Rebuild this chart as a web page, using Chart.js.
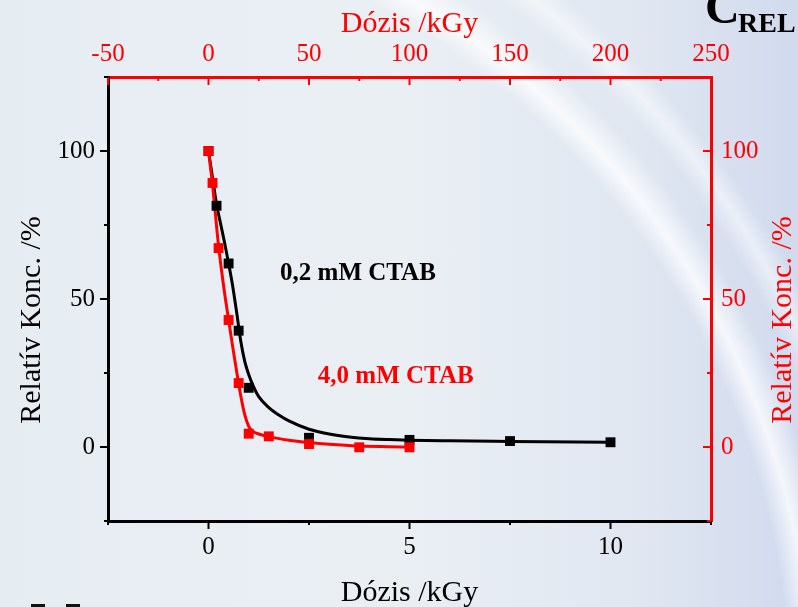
<!DOCTYPE html>
<html>
<head>
<meta charset="utf-8">
<script src="https://cdn.jsdelivr.net/npm/chart.js@4.4.1/dist/chart.umd.min.js"></script>
<style>
  html, body { margin: 0; padding: 0; }
  body {
    width: 798px; height: 607px; overflow: hidden;
    background:
      radial-gradient(circle at 0px 700px, rgba(255,255,255,0) 790px, rgba(255,255,255,0.75) 812px, rgba(255,255,255,0) 840px),
      radial-gradient(circle at 0px 700px, rgba(255,255,255,0) 860px, rgba(255,255,255,0.5) 880px, rgba(255,255,255,0) 900px),
      linear-gradient(90deg, #e6edf2 0%, #eaeff4 50%, #e0e7f1 80%, #d1daee 100%);
  }
  #wrap { position: relative; width: 798px; height: 607px; }
  .blip { position: absolute; top: 604px; height: 3px; background: #111; }
</style>
</head>
<body>
<div id="wrap">
  <canvas id="chart" width="798" height="607"></canvas>
  <div class="blip" style="left:31px;width:14px"></div>
  <div class="blip" style="left:66px;width:14px"></div>
</div>
<script>
const SERIF = '"Liberation Serif", "Times New Roman", serif';
const RED = '#ff0000';

// axis ticks
const doseTicks = [0, 5, 10];
const doseMinor = [-2.5, 2.5, 7.5, 12.5];
const doseTopTicks = [-50, 0, 50, 100, 150, 200, 250];
const doseTopMinor = [-25, 25, 75, 125, 175, 225];
const concTicks = [0, 50, 100];
const concMinor = [-25, 25, 75, 125];

// measured points
const dose02 = [0, 0.2, 0.5, 0.75, 1.0, 2.5, 5, 7.5, 10];
const conc02 = [100, 81.5, 62, 39.3, 20, 3.1, 2.4, 2.0, 1.6];
const dose40 = [0, 0.1, 0.25, 0.5, 0.75, 1.0, 1.5, 2.5, 3.75, 5];
const conc40 = [100, 89.2, 67.2, 42.9, 21.6, 4.5, 3.6, 1.0, -0.1, -0.1];

// fitted curves
const fitDose02 = [0, 0.1, 0.2, 0.3, 0.4, 0.5, 0.6, 0.7, 0.8, 0.9, 1.0, 1.1, 1.25, 1.5, 1.75, 2.0, 2.5, 3.0, 3.5, 4.0, 4.5, 5.0, 6.0, 7.5, 10];
const fitConc02 = [100, 91, 82, 75.5, 69, 62, 54.5, 45.5, 36, 29, 24.5, 21, 17, 13.3, 10.8, 8.8, 6.0, 4.4, 3.4, 2.8, 2.5, 2.3, 2.1, 1.9, 1.6];
const fitDose40 = [0, 0.1, 0.25, 0.4, 0.5, 0.6, 0.7, 0.8, 0.9, 1.0, 1.1, 1.25, 1.5, 2.0, 2.5, 3.0, 3.75, 4.5, 5.0];
const fitConc40 = [100, 88.5, 68, 52, 43, 34, 25.5, 17.5, 11, 7, 5.3, 4.4, 3.5, 2.3, 1.5, 0.9, 0.3, 0.1, 0];

// in-plot labels (data coords of left end / baseline)
const notes = [
  { text: '0,2 mM CTAB', x: 1.78, y: 56.5, color: '#000' },
  { text: '4,0 mM CTAB', x: 2.72, y: 21.5, color: RED },
];

const yTitle = 'Relatív Konc. /%';

const pts = (xs, ys) => xs.map((x, i) => ({ x, y: ys[i] }));
const fixTicks = vals => s => { s.ticks = vals.map(v => ({ value: v })); };

// minor/major tick marks, in or out like the original
const tickSpecs = [
  { id: 'x', major: doseTicks, minor: doseMinor, dir: 1, color: '#000' },
  { id: 'x2', major: doseTopTicks, minor: doseTopMinor, dir: 1, color: RED },
  { id: 'y', major: concTicks, minor: concMinor, dir: -1, color: '#000' },
  { id: 'y2', major: concTicks, minor: concMinor, dir: -1, color: RED },
];

const extras = {
  id: 'extras',
  afterDraw(chart) {
    const { ctx, chartArea } = chart;
    ctx.save();
    ctx.lineWidth = 2;
    tickSpecs.forEach(t => {
      const sc = chart.scales[t.id];
      ctx.strokeStyle = t.color;
      const mark = (v, len) => {
        const p = sc.getPixelForValue(v);
        ctx.beginPath();
        if (sc.isHorizontal()) {
          const y0 = t.id === 'x' ? chartArea.bottom : chartArea.top;
          ctx.moveTo(p, y0); ctx.lineTo(p, y0 + t.dir * len);
        } else {
          const x0 = t.id === 'y' ? chartArea.left : chartArea.right;
          ctx.moveTo(x0, p); ctx.lineTo(x0 + t.dir * len, p);
        }
        ctx.stroke();
      };
      t.major.forEach(v => mark(v, 8));
      t.minor.forEach(v => mark(v, 4));
    });

    ctx.font = 'bold 25px ' + SERIF;
    ctx.textBaseline = 'alphabetic';
    ctx.textAlign = 'left';
    notes.forEach(n => {
      ctx.fillStyle = n.color;
      ctx.fillText(n.text, chart.scales.x.getPixelForValue(n.x), chart.scales.y.getPixelForValue(n.y));
    });

    // both y titles read bottom-to-top
    const cy = (chartArea.top + chartArea.bottom) / 2 + 21;
    ctx.font = '30px ' + SERIF;
    ctx.textAlign = 'center';
    [[40, '#000'], [791, RED]].forEach(([bx, col]) => {
      ctx.save();
      ctx.translate(bx, cy);
      ctx.rotate(-Math.PI / 2);
      ctx.fillStyle = col;
      ctx.fillText(yTitle, 0, 0);
      ctx.restore();
    });

    // slide title, cut off at top right
    ctx.textAlign = 'left';
    ctx.fillStyle = '#000';
    ctx.font = 'bold 48px ' + SERIF;
    ctx.fillText('C', 705, 23);
    ctx.font = 'bold 28px ' + SERIF;
    ctx.fillText('REL', 738, 32);
    ctx.restore();
  }
};

const tickFont = { family: SERIF, size: 25 };
const titleFont = { family: SERIF, size: 30 };

new Chart(document.getElementById('chart'), {
  type: 'line',
  data: {
    datasets: [
      { data: pts(dose40, conc40), xAxisID: 'x', yAxisID: 'y', showLine: false,
        pointStyle: 'rect', pointRadius: 7, backgroundColor: RED, borderColor: RED, borderWidth: 0 },
      { data: pts(dose02, conc02), xAxisID: 'x', yAxisID: 'y', showLine: false,
        pointStyle: 'rect', pointRadius: 7, backgroundColor: '#000', borderColor: '#000', borderWidth: 0 },
      { data: pts(fitDose40, fitConc40), xAxisID: 'x', yAxisID: 'y', pointRadius: 0,
        borderColor: RED, borderWidth: 3, cubicInterpolationMode: 'monotone', fill: false },
      { data: pts(fitDose02, fitConc02), xAxisID: 'x', yAxisID: 'y', pointRadius: 0,
        borderColor: '#000', borderWidth: 3, cubicInterpolationMode: 'monotone', fill: false },
    ]
  },
  options: {
    responsive: false,
    animation: false,
    devicePixelRatio: 1,
    layout: { padding: 0 },
    plugins: { legend: { display: false }, tooltip: { enabled: false } },
    scales: {
      x: {
        type: 'linear', position: 'bottom', min: -2.5, max: 12.5,
        afterBuildTicks: fixTicks(doseTicks),
        afterFit: s => { s.height = 86; },
        grid: { display: false, drawTicks: false },
        border: { color: '#000', width: 3 },
        ticks: { color: '#000', font: tickFont, padding: 11, maxRotation: 0, autoSkip: false },
        title: { display: true, text: 'Dózis /kGy', color: '#000', font: titleFont, padding: { top: 0, bottom: -4 } }
      },
      x2: {
        type: 'linear', position: 'top', min: -50, max: 250,
        afterBuildTicks: fixTicks(doseTopTicks),
        afterFit: s => { s.height = 77; },
        grid: { display: false, drawTicks: false },
        border: { color: RED, width: 3 },
        ticks: { color: RED, font: tickFont, padding: 8, maxRotation: 0, autoSkip: false },
        title: { display: true, text: 'Dózis /kGy', color: RED, font: titleFont, padding: { top: 6, bottom: 0 } }
      },
      y: {
        type: 'linear', position: 'left', min: -25, max: 125,
        afterBuildTicks: fixTicks(concTicks),
        afterFit: s => { s.width = 108; },
        grid: { display: false, drawTicks: false },
        border: { color: '#000', width: 3 },
        ticks: { color: '#000', font: tickFont, padding: 13 },
        title: { display: false }
      },
      y2: {
        type: 'linear', position: 'right', min: -25, max: 125,
        afterBuildTicks: fixTicks(concTicks),
        afterFit: s => { s.width = 87; },
        grid: { display: false, drawTicks: false },
        border: { color: RED, width: 3 },
        ticks: { color: RED, font: tickFont, padding: 10 },
        title: { display: false }
      }
    }
  },
  plugins: [extras]
});
</script>
</body>
</html>
